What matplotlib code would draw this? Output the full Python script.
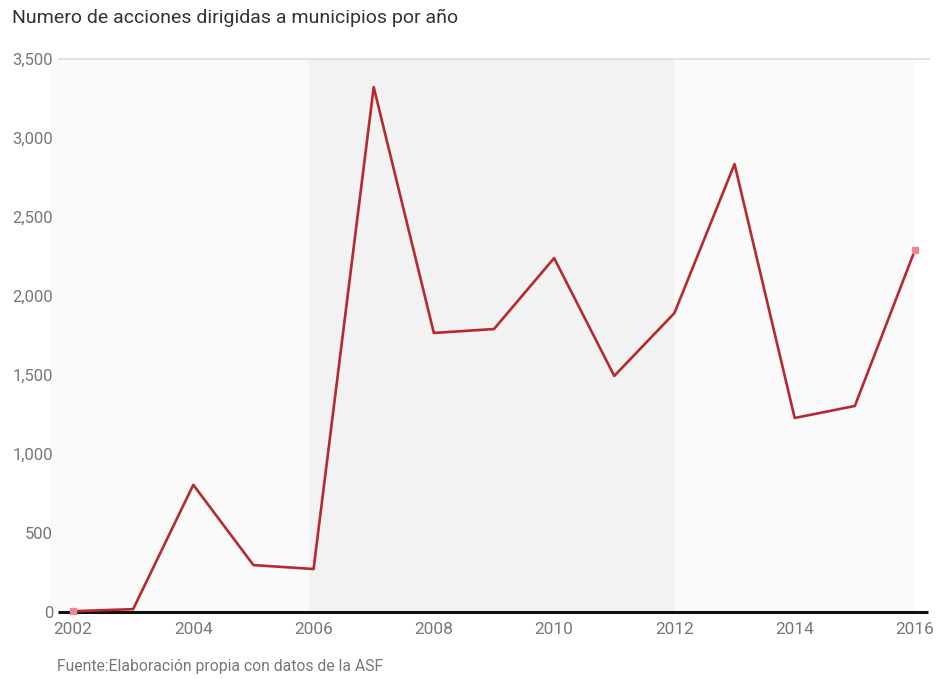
import matplotlib.pyplot as plt
from matplotlib.ticker import FuncFormatter

# data
years = [2002, 2003, 2004, 2005, 2006, 2007, 2008, 2009, 2010, 2011, 2012, 2013, 2014, 2015, 2016]
acciones = [5, 18, 805, 297, 272, 3322, 1766, 1791, 2240, 1494, 1892, 2835, 1228, 1304, 2291]
y_ticks = [0, 500, 1000, 1500, 2000, 2500, 3000, 3500]
x_ticks = [2002, 2004, 2006, 2008, 2010, 2012, 2014, 2016]
bands = [(2001.634, 2005.92, "#fafafa"), (2005.92, 2012, "#f2f2f2"), (2012, 2016, "#fafafa")]

plt.rcParams["font.family"] = ["Roboto", "DejaVu Sans"]

W, H = 938, 679
fig = plt.figure(figsize=(W / 100, H / 100), dpi=100, facecolor="white")
ax = fig.add_axes([51 / W, (H - 612) / H, (930 - 51) / W, 553 / H])
ax.set_xlim(2001.634, 2016.25)
ax.set_ylim(0, 3500)
for s in ax.spines.values():
    s.set_visible(False)

for x0, x1, c in bands:
    ax.axvspan(x0, x1, color=c, linewidth=0, zorder=0)

ax.hlines(3500, 2001.75, 2016.25, color="#d3e0df", linewidth=1.2, zorder=1, clip_on=False)
ax.hlines(0, 2001.75, 2016.22, color="#111111", linewidth=2.2, zorder=3, clip_on=False)

ax.plot(years, acciones, color="#b42a2f", linewidth=1.9, zorder=4, clip_on=False,
        marker="s", markevery=[0, len(years) - 1], markersize=4,
        markerfacecolor="#e98b8e", markeredgecolor="#e98b8e")

ax.set_yticks(y_ticks)
ax.yaxis.set_major_formatter(FuncFormatter(lambda v, p: f"{int(v):,}"))
ax.set_xticks(x_ticks)
ax.tick_params(axis="y", length=0, pad=-1.5, labelsize=12, labelcolor="#777777")
ax.tick_params(axis="x", length=0, pad=7.5, labelsize=12.4, labelcolor="#777777")

fig.text(12 / W, 1 - 18 / H, "Numero de acciones dirigidas a municipios por año",
         fontsize=14, color="#333333", va="center", ha="left")
fig.text(57 / W, 1 - 667 / H, "Fuente:Elaboración propia con datos de la ASF",
         fontsize=11.3, color="#777777", va="center", ha="left")

fig.savefig("out.png", dpi=100, facecolor="white")
